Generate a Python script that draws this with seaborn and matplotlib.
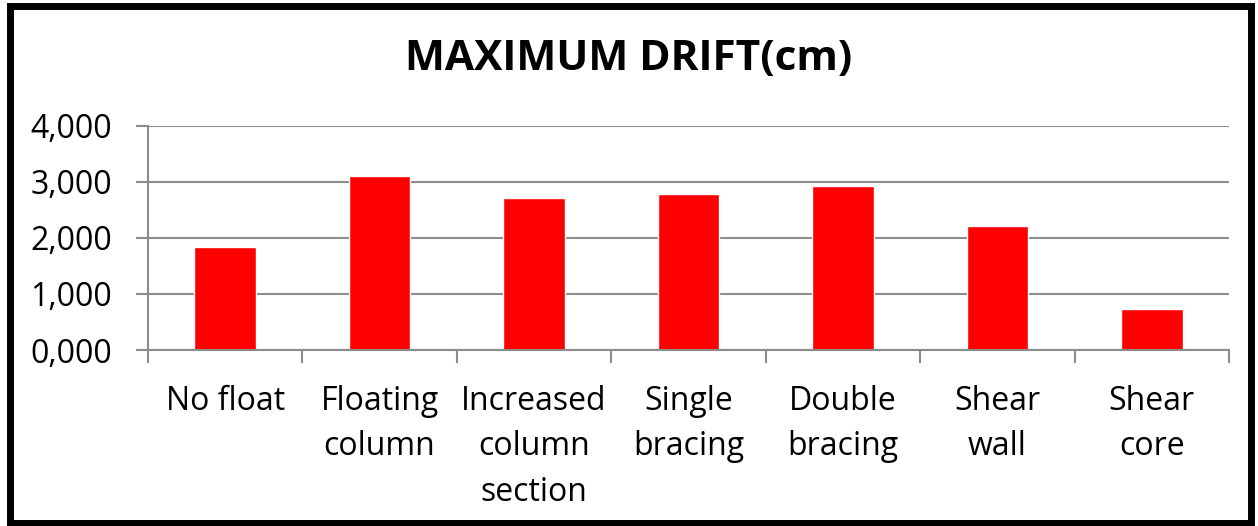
import numpy as np
import pandas as pd
import seaborn as sns
import matplotlib.pyplot as plt
from matplotlib.patches import Rectangle
from matplotlib.ticker import FuncFormatter

# données
categories = ["No float", "Floating column", "Increased column section",
              "Single bracing", "Double bracing", "Shear wall", "Shear core"]
tick_labels = ["No float", "Floating\ncolumn", "Increased\ncolumn\nsection",
               "Single\nbracing", "Double\nbracing", "Shear\nwall", "Shear\ncore"]
drift = [1.833, 3.101, 2.708, 2.792, 2.929, 2.220, 0.726]
y_ticks = [0, 1, 2, 3, 4]

df = pd.DataFrame({"cas": categories, "drift": drift})

sns.set_theme(style="white")
plt.rcParams['font.family'] = ['Open Sans', 'DejaVu Sans']
plt.rcParams['text.color'] = 'black'
plt.rcParams['xtick.labelcolor'] = 'black'
plt.rcParams['ytick.labelcolor'] = 'black'

fig = plt.figure(figsize=(12.58, 5.26), dpi=100)
ax = fig.add_axes([0.1176, 0.3346, 0.977 - 0.1176, 0.7605 - 0.3346])

sns.barplot(data=df, x="cas", y="drift", color="#ff0000", saturation=1,
            width=0.4, ax=ax)

ax.set_ylim(0, 4)
ax.set_xlim(-0.5, len(categories) - 0.5)
ax.set_yticks(y_ticks)
ax.yaxis.set_major_formatter(FuncFormatter(lambda v, p: f"{v:.3f}".replace(".", ",")))
ax.grid(axis="y", color="#8c8c8c", linewidth=1.5)
ax.set_axisbelow(True)

ax.set_xticks(range(len(categories)))
ax.set_xticklabels(tick_labels, linespacing=1.5, va="top")
ax.set_xticks(np.arange(-0.5, len(categories)), minor=True)
ax.tick_params(axis="x", which="major", length=0, pad=25, labelsize=23)
ax.tick_params(axis="x", which="minor", length=9, width=1.5, color="#8c8c8c", bottom=True)
ax.tick_params(axis="y", length=9, width=1.5, color="#8c8c8c", left=True, labelsize=23, pad=17)

for s in ["top", "right"]:
    ax.spines[s].set_visible(False)
for s in ["left", "bottom"]:
    ax.spines[s].set_color("#8c8c8c")
    ax.spines[s].set_linewidth(1.5)

ax.set_xlabel("")
ax.set_ylabel("")

fig.text(0.5, 1 - 60 / 526, "MAXIMUM DRIFT(cm)", ha="center", va="center",
         fontsize=30.5, fontweight="bold", color="black")

# cadre noir autour du graphique
fig.patches.append(Rectangle((10 / 1258, 3 / 526), 1241 / 1258, 517 / 526,
                             transform=fig.transFigure, fill=False,
                             edgecolor="black", linewidth=5))

fig.savefig("out.png", dpi=100)
